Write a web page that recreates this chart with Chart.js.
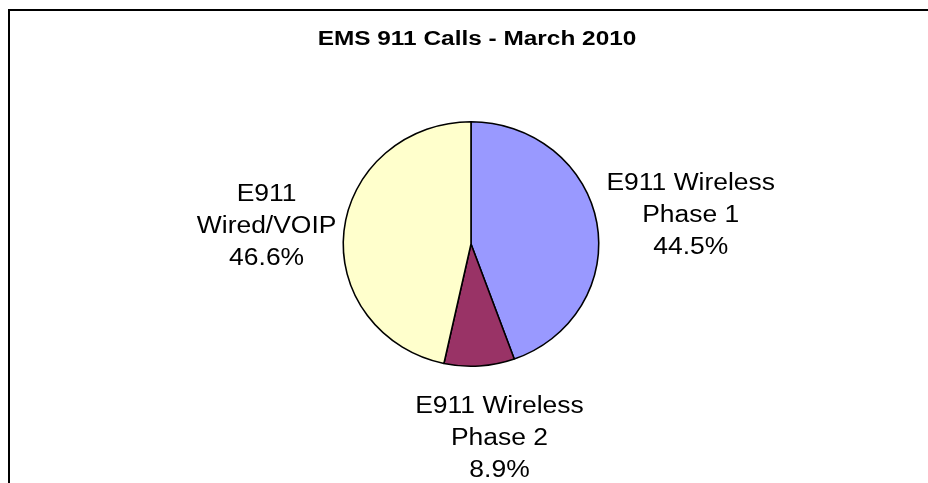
<!DOCTYPE html>
<html>
<head>
<meta charset="utf-8">
<script src="https://cdn.jsdelivr.net/npm/chart.js@4/dist/chart.umd.min.js"></script>
<style>
  html, body { margin: 0; padding: 0; background: #fff; overflow: hidden; }
</style>
</head>
<body>
<canvas id="chart" width="928" height="483"></canvas>
<script>
  // EMS 911 calls by type, March 2010 (percent of total)
  var categories = ['E911 Wireless Phase 1', 'E911 Wireless Phase 2', 'E911 Wired/VOIP'];
  var labelLines = [['E911 Wireless', 'Phase 1'], ['E911 Wireless', 'Phase 2'], ['E911', 'Wired/VOIP']];
  var shares = [44.5, 8.9, 46.6];
  var sliceColors = ['#9999FF', '#993366', '#FFFFCC'];
  var chartTitle = 'EMS 911 Calls - March 2010';

  var stretchX = 1.045;   // source picture is a little wider than tall
  var labelNudge = [[3, 5], [14, 3], [0, 3]];

  // draws the frame, the title and the outside-end labels, and stretches the pie
  var excelLook = {
      id: 'excelLook',
      beforeDraw: function(chart) {
          var ctx = chart.ctx;
          ctx.save();
          ctx.fillStyle = '#000';
          ctx.fillRect(8, 9, 2, 500);
          ctx.fillRect(8, 9, 1000, 2);
          ctx.font = 'bold 20px "Liberation Sans", Arial, sans-serif';
          ctx.fillStyle = '#000';
          ctx.textAlign = 'center';
          ctx.textBaseline = 'alphabetic';
          ctx.translate(477, 45);
          ctx.scale(1.22, 1);
          ctx.fillText(chartTitle, 0, 0);
          ctx.restore();
      },
      beforeDatasetsDraw: function(chart) {
          var arc = chart.getDatasetMeta(0).data[0];
          var ctx = chart.ctx;
          ctx.save();
          ctx.translate(arc.x, 0);
          ctx.scale(stretchX, 1);
          ctx.translate(-arc.x, 0);
      },
      afterDatasetsDraw: function(chart) {
          var ctx = chart.ctx;
          ctx.restore();
          var meta = chart.getDatasetMeta(0);
          var lineH = 32, gap = 8, vpad = 14, textScale = 1.15;
          ctx.save();
          ctx.font = '23px "Liberation Sans", Arial, sans-serif';
          ctx.fillStyle = '#000';
          ctx.textAlign = 'center';
          ctx.textBaseline = 'middle';
          meta.data.forEach(function(arc, i) {
              var lines = labelLines[i].concat([shares[i].toFixed(1) + '%']);
              var w = 0;
              lines.forEach(function(l) { w = Math.max(w, ctx.measureText(l).width * textScale); });
              var mid = (arc.startAngle + arc.endAngle) / 2;
              var dx = Math.cos(mid), dy = Math.sin(mid);
              var rx = arc.outerRadius * stretchX, ry = arc.outerRadius;
              var ax = arc.x + dx * (rx + gap), ay = arc.y + dy * (ry + gap);
              var cx = ax + dx * w / 2 + labelNudge[i][0];
              var cy = ay + dy * (lines.length * lineH / 2 + vpad) + labelNudge[i][1];
              lines.forEach(function(l, k) {
                  ctx.save();
                  ctx.translate(cx, cy + (k - (lines.length - 1) / 2) * lineH);
                  ctx.scale(textScale, 1);
                  ctx.fillText(l, 0, 0);
                  ctx.restore();
              });
          });
          ctx.restore();
      }
  };

  var data = {
      labels: categories,
      datasets: [{
          data: shares,
          backgroundColor: sliceColors,
          borderColor: '#000',
          borderWidth: 1.5
      }]
  };

  var config = {
      type: 'pie',
      data: data,
      options: {
          responsive: false,
          animation: false,
          layout: {
              padding: { top: 121, bottom: 116, left: 300, right: 286 }
          },
          plugins: {
              legend: { display: false },
              title: { display: false },
              tooltip: { enabled: false }
          }
      },
      plugins: [excelLook]
  };

  var emsChart = new Chart(document.getElementById('chart'), config);
</script>
</body>
</html>
